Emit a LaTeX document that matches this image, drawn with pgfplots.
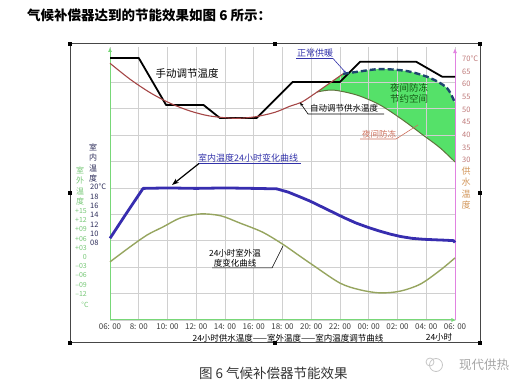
\documentclass[border=0pt]{standalone}
\usepackage{pgfplots}
\usepackage{pgfplotstable}
\pgfplotsset{compat=1.18}
\usepgfplotslibrary{fillbetween}
\usetikzlibrary{arrows.meta}
\usepackage{fontspec}
\setmainfont{Noto Sans CJK SC}
\newcommand{\fs}[1]{\fontsize{#1}{#1}\selectfont}

\definecolor{gridgray}{RGB}{208,208,208}
\definecolor{axgreen}{RGB}{120,215,120}
\definecolor{axpink}{RGB}{225,130,225}
\definecolor{indoorblue}{RGB}{55,45,175}
\definecolor{outolive}{RGB}{150,165,95}
\definecolor{autored}{RGB}{165,70,70}
\definecolor{fillgreen}{RGB}{85,225,105}
\definecolor{lowgreen}{RGB}{95,115,60}
\definecolor{dashnavy}{RGB}{30,70,110}
\definecolor{supplylab}{RGB}{190,120,120}
\definecolor{supplytitle}{RGB}{210,150,90}
\definecolor{outlab}{RGB}{120,200,120}
\definecolor{inlab}{RGB}{45,45,90}
\definecolor{annblue}{RGB}{50,50,170}
\definecolor{annbrown}{RGB}{205,110,90}
\definecolor{anngreen}{RGB}{20,90,20}
\definecolor{framegray}{RGB}{70,70,70}
\definecolor{ticklab}{RGB}{60,60,60}

% manual adjustment (supply water scale)
\pgfplotstableread{
h T
6.0 70.4
8.0 70.4
9.9 51.8
12.5 51.8
13.65 46.6
16.2 46.6
18.7 60.9
22.0 60.9
23.4 68.9
27.3 68.9
29.1 63.0
30.0 63.0
}\tabManual
% automatic supply water temperature
\pgfplotstableread{
h T
6.00 68.3
7.39 62.0
8.78 56.7
10.17 52.5
11.57 49.4
12.96 47.4
14.70 46.5
16.09 47.1
17.48 48.9
18.52 51.3
19.36 53.0
20.40 56.9
21.30 60.5
22.21 64.1
}\tabAuto
% normal heating (dashed)
\pgfplotstableread{
h T
22.21 64.1
23.18 64.9
24.78 66.0
26.66 65.2
28.26 62.5
29.44 58.5
30.00 52.6
}\tabNormal
% upper edge of saving area
\pgfplotstableread{
h T
20.40 56.9
21.30 60.5
22.21 64.1
23.18 64.9
24.78 66.0
26.66 65.2
28.26 62.5
29.44 58.5
30.00 52.6
}\tabUpper
% night antifreeze
\pgfplotstableread{
h T
20.40 56.9
21.51 57.7
23.18 55.7
24.78 51.8
26.38 45.8
27.77 39.9
28.96 34.8
30.00 29.2
}\tabLower
% indoor temperature
\pgfplotstableread{
h T
6.0 9.0
7.0 13.7
8.3 19.7
10.0 19.8
12.0 19.7
14.0 19.8
16.0 19.7
17.6 19.6
18.4 18.9
19.2 17.9
19.9 17.0
20.7 15.8
21.5 14.6
22.3 13.4
23.1 12.3
23.9 11.4
24.7 10.6
25.5 9.9
26.2 9.4
27.0 9.0
27.8 8.8
28.5 8.7
29.3 8.6
29.9 8.5
30.0 8.1
}\tabIndoor
% outdoor temperature
\pgfplotstableread{
h T
6.0 -1.6
7.4 3.3
8.6 7.2
9.7 9.8
10.9 12.7
12.3 14.0
13.7 13.4
15.0 11.1
16.6 8.1
18.0 4.2
19.2 0.3
20.1 -2.6
22.0 -8.5
23.4 -10.7
24.8 -11.7
26.2 -11.1
27.6 -8.8
29.0 -4.2
30.0 -0.3
}\tabOutdoor

\begin{document}
\begin{tikzpicture}
\path (0,0) rectangle (530pt,387pt);
\pgfplotsset{base/.style={scale only axis, width=345pt, height=273pt,
  at={(110pt,67pt)}, anchor=south west, xmin=6, xmax=30, clip=false,
  axis line style={draw=none}, major tick style={draw=none}}}

% grid and axes lines
\begin{axis}[base, ymin=0, ymax=10.34,
  xtick={6,8,...,30}, ytick={0,...,9}, yticklabel=\empty,
  xmajorgrids, ymajorgrids, grid style={gridgray, line width=0.6pt},
  xticklabels={06: 00, 8: 00, 10: 00, 12: 00, 14: 00, 16: 00, 18: 00, 20: 00, 22: 00, 00: 00, 02: 00, 04: 00, 06: 00},
  xticklabel style={font=\fs{8}, text=ticklab, anchor=center, inner sep=0pt, yshift=-7pt}]
\draw[axgreen, line width=1pt, -{Latex[length=5pt,width=4pt]}] (axis cs:6,0) -- (axis cs:30.1,0);
\draw[axgreen, line width=1pt, -{Latex[length=5pt,width=4pt]}] (axis cs:6,0) -- (axis cs:6,10.34);
\draw[axpink, line width=1pt, -{Latex[length=5pt,width=4pt]}] (axis cs:30,0) -- (axis cs:30,10.3);
\end{axis}

% supply water temperature scale
\begin{axis}[base, ymin=-33.37, ymax=74.75, xtick=\empty,
  ytick={30,35,...,70}, yticklabels={30,35,40,45,50,55,60,65,70°C},
  yticklabel pos=right,
  yticklabel style={anchor=west, inner sep=0pt, xshift=7pt, font=\fs{7.5}, text=supplylab}]
\addplot[name path=up, draw=none, smooth] table {\tabUpper};
\addplot[name path=lo, draw=none, smooth] table {\tabLower};
\addplot[fillgreen] fill between[of=up and lo];
\addplot[lowgreen, line width=1pt, smooth] table {\tabLower};
\addplot[black, line width=1.8pt, line join=round] table {\tabManual};
\addplot[autored, line width=1.1pt, smooth] table {\tabAuto};
\addplot[dashnavy, line width=2.4pt, smooth, dash pattern=on 6pt off 3pt] table {\tabNormal};
\end{axis}

% indoor temperature scale
\begin{axis}[base, ymin=-8.5, ymax=50, xtick=\empty,
  ytick={8,10,...,20}, yticklabels={08,10,12,14,16,18,20°C},
  yticklabel style={anchor=west, inner sep=0pt, xshift=-20pt, font=\fs{7.5}, text=inlab}]
\addplot[indoorblue, line width=2.8pt, line join=round] table {\tabIndoor};
\end{axis}

% outdoor temperature scale
\begin{axis}[base, ymin=-20.5, ymax=68.3, xtick=\empty,
  ytick={-12,-9,...,15}, yticklabels={--12,--09,--06,--03,0,+03,+06,+09,+12,+15},
  yticklabel style={anchor=east, inner sep=0pt, xshift=-23pt, font=\fs{7}, text=outlab}]
\addplot[outolive, line width=1.4pt, smooth] table {\tabOutdoor};
\end{axis}

\begin{scope}[x=1pt, y=-1pt, yshift=387pt]
% frame
\draw[framegray, line width=1pt] (70,44) rectangle (480,343);
\foreach \p in {(70,44),(275,44),(480,44),(70,193),(480,193),(70,343),(275,343),(480,343)}
  \fill[black] \p ++(-2,-2) rectangle ++(4,4);
% title and caption
\node[anchor=west, font=\fs{13.5}\bfseries, inner sep=0pt] at (27,15) {气候补偿器达到的节能效果如图 6 所示：};
\node[anchor=west, font=\fs{13.5}, text=black!80, inner sep=0pt] at (199,373) {图 6 气候补偿器节能效果};
% watermark
\draw[gray!45, line width=0.8pt] (436,365) circle (6.5);
\draw[gray!45, line width=0.8pt] (430,362) circle (4);
\node[anchor=west, font=\fs{12.5}, text=gray!70, inner sep=0pt] at (459,365) {现代供热};
% axis titles
\node[font=\fs{8}, text=inlab, align=center, inner sep=0pt] at (93,163) {\shortstack{室\\内\\温\\度}};
\node[font=\fs{8}, text=outlab, align=center, inner sep=0pt] at (80,186) {\shortstack{室\\外\\温\\度}};
\node[font=\fs{7}, text=outlab, inner sep=0pt] at (85,305) {°C};
\node[font=\fs{9}, text=supplytitle, align=center, inner sep=0pt] at (466,188) {\shortstack{供\\水\\温\\度}};
% annotations
\node[font=\fs{10.5}, inner sep=0pt] at (187,73) {手动调节温度};
\node[anchor=west, font=\fs{9}, text=annblue, inner sep=0pt] at (297,53) {正常供暖};
\draw[annblue, line width=0.6pt, -{Stealth[length=3pt]}] (296,58.5) -- (333,58.5) -- (346,73);
\node[font=\fs{9.5}, text=anngreen, inner sep=0pt] at (409,88) {夜间防冻};
\node[font=\fs{9.5}, text=anngreen, inner sep=0pt] at (409,99) {节约空间};
\node[anchor=west, font=\fs{8.5}, inner sep=0pt] at (310,108) {自动调节供水温度};
\draw[black, line width=0.6pt, -{Stealth[length=4pt]}] (384,114) -- (308,114) -- (300,102.5);
\node[anchor=west, font=\fs{8.5}, text=annbrown, inner sep=0pt] at (362,134) {夜间防冻};
\draw[annbrown, line width=0.6pt] (360,139) -- (396,139) -- (418,125);
\node[anchor=west, font=\fs{9}, text=annblue, inner sep=0pt] at (198,158) {室内温度24小时变化曲线};
\draw[annblue, line width=0.6pt] (198,163.5) -- (301,163.5);
\draw[black, line width=1.2pt, -{Stealth[length=7pt,width=5pt]}] (199,163.5) -- (172,185);
\node[font=\fs{8.5}, inner sep=0pt] at (235,253) {24小时室外温};
\node[font=\fs{8.5}, inner sep=0pt] at (235,263) {度变化曲线};
\draw[black, line width=0.5pt] (212,268) -- (272,268) -- (283,246);
\node[font=\fs{8.5}, inner sep=0pt] at (288,338) {24小时供水温度——室外温度——室内温度调节曲线};
\node[font=\fs{8.5}, inner sep=0pt] at (439,337) {24小时};
\end{scope}
\end{tikzpicture}
\end{document}
